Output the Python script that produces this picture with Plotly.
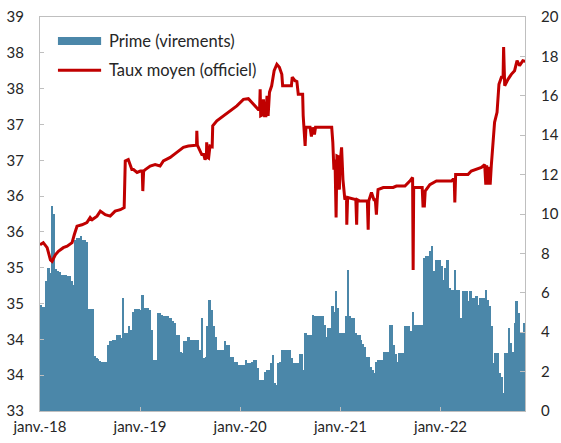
import pandas as pd
import plotly.graph_objects as go

# Prime (virements) - weekly values, starting week of 2018-01-01 (right axis)
prime = [
    5.39, 5.3, 5.3, 6.6, 7.26, 7.0, 10.4, 10.0, 7.2, 7.1,
    7.05, 6.92, 6.92, 6.9, 6.83, 6.83, 6.58, 6.41, 8.7, 8.79,
    8.79, 8.87, 8.7, 8.7, 8.6, 5.2, 5.2, 5.2, 2.77, 2.7,
    2.66, 2.55, 2.51, 2.51, 2.51, 3.36, 3.53, 3.55, 3.58, 3.58,
    3.87, 3.87, 3.7, 5.73, 3.95, 3.95, 4.29, 4.12, 5.05, 5.2,
    5.2, 5.2, 5.14, 5.9, 5.23, 5.23, 5.23, 5.14, 4.12, 2.6,
    2.6, 4.97, 4.97, 4.89, 4.8, 4.8, 4.8, 4.72, 4.72, 4.55,
    4.46, 3.87, 3.87, 3.02, 2.94, 3.53, 3.53, 3.78, 3.58, 3.58,
    3.58, 3.58, 3.58, 3.1, 4.72, 2.68, 2.76, 4.29, 5.65, 5.14,
    4.29, 3.78, 3.1, 3.1, 3.1, 3.1, 3.53, 3.36, 3.36, 2.76,
    2.76, 2.51, 2.51, 2.34, 2.34, 2.34, 2.34, 2.6, 2.43, 2.45,
    2.5, 2.6, 2.6, 2.17, 1.58, 1.58, 1.58, 2.0, 2.09, 2.09,
    2.43, 2.85, 1.4, 1.32, 2.43, 2.51, 3.1, 3.1, 3.1, 3.1,
    3.1, 2.68, 2.43, 2.43, 2.43, 2.9, 2.9, 2.09, 3.95, 3.87,
    3.87, 3.87, 4.89, 4.8, 4.8, 4.8, 4.8, 4.8, 4.38, 3.78,
    4.21, 4.21, 5.31, 5.05, 6.07, 5.23, 3.95, 3.95, 3.95, 4.8,
    7.18, 4.8, 4.72, 4.72, 3.95, 3.87, 3.87, 3.61, 3.4, 3.27,
    2.76, 2.76, 2.25, 2.1, 1.92, 2.51, 2.6, 2.6, 2.6, 3.02,
    3.02, 3.02, 4.38, 4.38, 3.36, 2.9, 2.51, 2.94, 2.94, 2.94,
    4.29, 4.29, 4.29, 4.04, 5.05, 4.38, 4.38, 4.38, 4.38, 4.38,
    7.77, 7.85, 7.85, 8.1, 8.36, 7.09, 7.68, 7.68, 7.68, 7.34,
    6.67, 7.26, 7.68, 6.24, 6.16, 6.16, 7.18, 6.16, 6.16, 4.72,
    6.07, 6.07, 6.07, 5.56, 6.07, 5.73, 5.73, 5.82, 5.39, 5.73,
    5.73, 5.73, 6.16, 5.65, 5.31, 4.29, 2.43, 2.94, 2.94, 1.92,
    1.75, 0.9, 2.94, 2.94, 4.21, 3.44, 3.02, 4.46, 5.56, 4.97,
    3.95, 3.95, 4.46,
]
prime_dates = pd.date_range("2018-01-01", periods=len(prime), freq="7D")

# Taux moyen (officiel) - left axis
taux_dates = [
    "2018-01-01", "2018-01-13", "2018-01-27", "2018-02-08", "2018-02-14", "2018-02-26",
    "2018-03-09", "2018-03-27", "2018-04-10", "2018-04-28", "2018-05-06", "2018-05-16",
    "2018-06-03", "2018-06-21", "2018-07-03", "2018-07-10", "2018-07-28", "2018-08-09",
    "2018-08-27", "2018-09-14", "2018-10-02", "2018-10-21", "2018-11-04", "2018-11-08",
    "2018-11-19", "2018-12-02", "2018-12-08", "2018-12-21", "2019-01-02", "2019-01-09",
    "2019-01-11", "2019-01-14", "2019-01-20", "2019-02-07", "2019-02-25", "2019-03-15",
    "2019-03-27", "2019-04-21", "2019-05-15", "2019-06-08", "2019-06-26", "2019-07-15",
    "2019-07-26", "2019-07-27", "2019-07-29", "2019-08-14", "2019-08-21", "2019-08-26",
    "2019-08-31", "2019-09-01", "2019-09-04", "2019-09-08", "2019-09-13", "2019-09-21",
    "2019-09-23", "2019-10-08", "2019-11-01", "2019-11-25", "2019-12-20", "2020-01-13",
    "2020-01-31", "2020-02-12", "2020-02-24", "2020-03-07", "2020-03-12", "2020-03-14",
    "2020-03-16", "2020-03-21", "2020-03-26", "2020-03-30", "2020-04-04", "2020-04-08",
    "2020-04-12", "2020-04-17", "2020-04-25", "2020-05-04", "2020-05-14", "2020-05-23",
    "2020-06-01", "2020-06-04", "2020-07-06", "2020-07-09", "2020-07-19", "2020-07-26",
    "2020-07-31", "2020-08-16", "2020-08-18", "2020-08-23", "2020-08-25", "2020-08-28",
    "2020-09-12", "2020-09-17", "2020-09-21", "2020-09-28", "2020-10-02", "2020-11-30",
    "2020-12-04", "2020-12-08", "2020-12-12", "2020-12-16", "2020-12-19", "2020-12-24",
    "2020-12-28", "2020-12-30", "2021-01-05", "2021-01-10", "2021-01-13", "2021-01-17",
    "2021-01-23", "2021-01-24", "2021-01-27", "2021-02-26", "2021-03-01", "2021-03-03",
    "2021-03-13", "2021-04-09", "2021-04-12", "2021-04-14", "2021-04-24", "2021-05-03",
    "2021-05-08", "2021-05-12", "2021-05-15", "2021-05-18", "2021-06-06", "2021-07-12",
    "2021-07-24", "2021-08-24", "2021-09-11", "2021-09-21", "2021-09-23", "2021-09-25",
    "2021-10-26", "2021-10-29", "2021-11-03", "2021-11-06", "2021-11-23", "2021-12-05",
    "2021-12-17", "2022-02-10", "2022-02-15", "2022-02-20", "2022-02-22", "2022-02-25",
    "2022-04-11", "2022-04-23", "2022-05-30", "2022-06-11", "2022-06-15", "2022-06-18",
    "2022-06-24", "2022-06-27", "2022-07-01", "2022-07-05", "2022-07-11", "2022-07-17",
    "2022-07-26", "2022-08-02", "2022-08-11", "2022-08-17", "2022-08-19", "2022-08-23",
    "2022-09-04", "2022-09-16", "2022-09-28", "2022-10-07", "2022-10-16", "2022-10-28",
    "2022-11-06",
]
taux_values = [
    35.32, 35.35, 35.28, 35.11, 35.09, 35.18,
    35.23, 35.28, 35.30, 35.35, 35.46, 35.58,
    35.60, 35.63, 35.70, 35.67, 35.72, 35.79,
    35.74, 35.72, 35.79, 35.81, 35.84, 36.49,
    36.51, 36.37, 36.37, 36.33, 36.35, 36.35,
    36.07, 36.35, 36.37, 36.42, 36.44, 36.42,
    36.49, 36.54, 36.61, 36.68, 36.70, 36.71,
    36.71, 36.91, 36.71, 36.58, 36.58, 36.51,
    36.54, 36.75, 36.54, 36.53, 36.70, 36.69,
    36.98, 37.05, 37.12, 37.19, 37.26, 37.35,
    37.36, 37.31, 37.26, 37.21, 37.21, 37.49,
    37.12, 37.13, 37.35, 37.12, 37.12, 37.40,
    37.12, 37.45, 37.54, 37.75, 37.84, 37.80,
    37.70, 37.54, 37.54, 37.66, 37.61, 37.60,
    37.42, 37.42, 37.12, 36.79, 36.70, 36.96,
    36.96, 36.83, 36.96, 36.86, 36.96, 36.96,
    36.75, 36.37, 36.51, 35.70, 36.56, 36.55,
    36.09, 36.44, 36.68, 36.23, 36.09, 35.95,
    35.98, 35.60, 35.98, 35.95, 35.60, 35.95,
    35.93, 35.93, 35.53, 35.93, 36.05, 35.95,
    35.95, 35.74, 35.95, 36.09, 36.12, 36.12,
    36.14, 36.14, 36.21, 36.26, 34.97, 36.12,
    36.12, 35.86, 35.86, 36.07, 36.16, 36.19,
    36.21, 36.21, 36.23, 36.23, 35.91, 36.30,
    36.30, 36.35, 36.40, 36.44, 36.16, 36.43,
    36.16, 36.41, 36.16, 36.42, 36.79, 37.03,
    37.17, 37.56, 37.66, 37.66, 38.08, 37.54,
    37.63, 37.70, 37.75, 37.89, 37.82, 37.89,
    37.88,
]

# Axis ticks
left_tickvals = [33, 33.5, 34, 34.5, 35, 35.5, 36, 36.5, 37, 37.5, 38, 38.5]
left_ticktext = ["33", "34", "34", "35", "35", "36", "36", "37", "37", "38", "38", "39"]
right_tickvals = [0, 2, 4, 6, 8, 10, 12, 14, 16, 18, 20]
x_tickvals = ["2018-01-01", "2019-01-01", "2020-01-01", "2021-01-01", "2022-01-01"]
x_ticktext = ["janv.-18", "janv.-19", "janv.-20", "janv.-21", "janv.-22"]
legend_labels = ["Prime (virements)", "Taux moyen (officiel)"]

BAR_COLOR = "#4B87A9"
LINE_COLOR = "#C00000"
AXIS_COLOR = "#BFBFBF"
TEXT_COLOR = "#262626"
FONT = "Lato, Carlito, 'Liberation Sans', sans-serif"

fig = go.Figure()
fig.add_trace(go.Bar(
    x=prime_dates, y=prime, name=legend_labels[0],
    width=7 * 86400000, offset=0,
    marker=dict(color=BAR_COLOR, line=dict(width=0)),
    yaxis="y", showlegend=False,
))
fig.add_trace(go.Scatter(
    x=taux_dates, y=taux_values, name=legend_labels[1], mode="lines",
    line=dict(color=LINE_COLOR, width=3),
    yaxis="y2", showlegend=False,
))

fig.update_layout(
    width=561, height=443,
    margin=dict(l=40, r=36, t=17, b=32, autoexpand=False),
    paper_bgcolor="white", plot_bgcolor="white",
    font=dict(family=FONT, size=15, color=TEXT_COLOR),
    bargap=0,
    xaxis=dict(
        type="date", range=["2018-01-01", "2022-11-05"],
        tickvals=x_tickvals, ticktext=x_ticktext,
        showgrid=False, zeroline=False, automargin=False,
        showline=True, linecolor=AXIS_COLOR, linewidth=1, mirror=True,
        ticks="inside", ticklen=4, tickcolor=AXIS_COLOR,
        ticklabelstandoff=2,
        tickfont=dict(size=15, color=TEXT_COLOR),
    ),
    yaxis=dict(
        side="right", range=[0, 20], tickvals=right_tickvals,
        showgrid=False, zeroline=False, automargin=False,
        showline=True, linecolor=AXIS_COLOR, linewidth=1,
        ticks="inside", ticklen=5, tickcolor=AXIS_COLOR,
        ticklabelstandoff=12,
        tickfont=dict(size=15, color=TEXT_COLOR),
    ),
    yaxis2=dict(
        side="left", overlaying="y", range=[33, 38.5],
        tickvals=left_tickvals, ticktext=left_ticktext,
        showgrid=False, zeroline=False, automargin=False,
        showline=True, linecolor=AXIS_COLOR, linewidth=1,
        ticks="inside", ticklen=4, tickcolor=AXIS_COLOR,
        ticklabelstandoff=12,
        tickfont=dict(size=15, color=TEXT_COLOR),
    ),
    shapes=[
        dict(type="rect", xref="paper", yref="paper",
             x0=0.037, x1=0.126, y0=0.929, y1=0.949,
             fillcolor=BAR_COLOR, line=dict(width=0)),
        dict(type="line", xref="paper", yref="paper",
             x0=0.037, x1=0.126, y0=0.865, y1=0.865,
             line=dict(color=LINE_COLOR, width=3)),
    ],
    annotations=[
        dict(text=legend_labels[0], xref="paper", yref="paper", x=0.138, y=0.939,
             xanchor="left", yanchor="middle", showarrow=False,
             font=dict(size=16.5, color=TEXT_COLOR)),
        dict(text=legend_labels[1], xref="paper", yref="paper", x=0.138, y=0.865,
             xanchor="left", yanchor="middle", showarrow=False,
             font=dict(size=16.5, color=TEXT_COLOR)),
    ],
)

fig.write_html(
    "out.html",
    config={"displayModeBar": False},
    post_script="document.body.style.margin='0';document.body.style.overflow='hidden';",
)
